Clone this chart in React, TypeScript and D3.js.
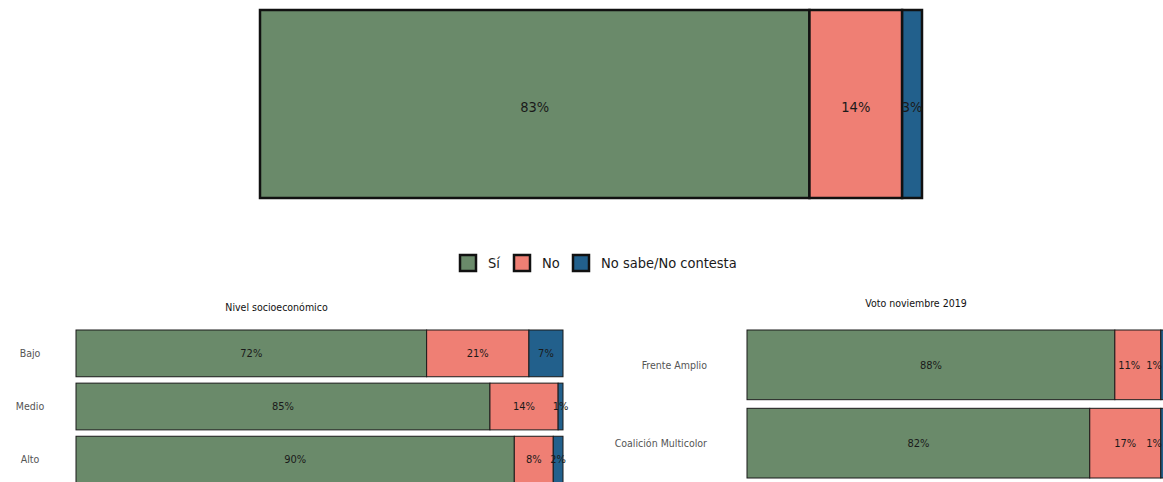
import React from "react";
import * as d3 from "d3";

const responses = ["Sí", "No", "No sabe/No contesta"];
const colors = ["#6a8a6a", "#ef7f74", "#22608c"];

const overallValues = [83, 14, 3];

const nseTitle = "Nivel socioeconómico";
const nseCategories = ["Bajo", "Medio", "Alto"];
const nseSi = [72, 85, 90];
const nseNo = [21, 14, 8];
const nseNs = [7, 1, 2];

const votoTitle = "Voto noviembre 2019";
const votoCategories = ["Frente Amplio", "Coalición Multicolor"];
const votoSi = [88, 82];
const votoNo = [11, 17];
const votoNs = [1, 1];

const FONT = "'Liberation Sans Narrow', 'DejaVu Sans Condensed', sans-serif";

type Seg = { key: number; x0: number; x1: number; v: number };

function stackRow(vals: number[]): Seg[] {
  let acc = 0;
  return vals.map((v, i) => {
    const s = { key: i, x0: acc, x1: acc + v, v };
    acc += v;
    return s;
  });
}

// place value labels at segment centres, nudging left when they would collide / leave the page
function labelPositions(centres: number[], texts: string[], size: number, maxX: number, gap: number): number[] {
  const w = texts.map((t) => t.length * size * 0.72);
  const out = centres.slice();
  let limit = maxX;
  for (let i = out.length - 1; i >= 0; i--) {
    const right = out[i] + w[i] / 2;
    if (right > limit) out[i] = limit - w[i] / 2;
    limit = out[i] - w[i] / 2 - gap;
  }
  return out;
}

function Panel(props: {
  title: string;
  categories: string[];
  series: number[][];
  x0: number;
  x1: number;
  y0: number;
  y1: number;
  panelLeft: number;
  labelAnchor: "middle" | "end";
  labelX: number;
  padding: number;
  titleY: number;
  maxTextX: number;
  valueSize: number;
  avoid: boolean;
}) {
  const { title, categories, series, x0, x1, y0, y1, panelLeft, labelAnchor, labelX, padding, titleY, maxTextX, valueSize, avoid } = props;
  const x = d3.scaleLinear().domain([0, 100]).range([x0, x1]);
  const y = d3.scaleBand<string>().domain(categories).range([y0, y1]).paddingInner(padding);
  return (
    <g>
      <text x={(panelLeft + x1) / 2} y={titleY} textAnchor="middle" fontSize={10.5} fill="#111" fontFamily={FONT}>
        {title}
      </text>
      {categories.map((c, ci) => {
        const vals = series.map((s) => s[ci]);
        const segs = stackRow(vals);
        const yy = y(c)!;
        const h = y.bandwidth();
        const texts = segs.map((s) => `${s.v}%`);
        const centres = segs.map((s) => (x(s.x0) + x(s.x1)) / 2);
        const pos = avoid ? labelPositions(centres, texts, valueSize, maxTextX, 5) : centres;
        return (
          <g key={c}>
            <text x={labelX} y={yy + h / 2} dy="0.35em" textAnchor={labelAnchor} fontSize={10.5} fill="#555" fontFamily={FONT}>
              {c}
            </text>
            {segs.map((s) => (
              <rect key={s.key} x={x(s.x0)} y={yy} width={x(s.x1) - x(s.x0)} height={h} fill={colors[s.key]} stroke="#1a1a1a" strokeWidth={1} />
            ))}
            {segs.map((s, i) => (
              <text key={"t" + s.key} x={pos[i]} y={yy + h / 2} dy="0.35em" textAnchor="middle" fontSize={valueSize} fill="#1a1a1a" fontFamily={FONT}>
                {texts[i]}
              </text>
            ))}
          </g>
        );
      })}
    </g>
  );
}

export default function App() {
  const W = 1163;
  const H = 482;
  const xTop = d3.scaleLinear().domain([0, 100]).range([260, 922]);
  const topSegs = stackRow(overallValues);
  const topY = 10;
  const topH = 188;

  const legendItems = [
    { x: 460, label: responses[0] },
    { x: 514, label: responses[1] },
    { x: 573, label: responses[2] },
  ];

  return (
    <svg width={W} height={H} style={{ position: "absolute", left: 0, top: 0, background: "#fff" }}>
      {topSegs.map((s) => (
        <rect key={s.key} x={xTop(s.x0)} y={topY} width={xTop(s.x1) - xTop(s.x0)} height={topH} fill={colors[s.key]} stroke="#111" strokeWidth={2.5} />
      ))}
      {topSegs.map((s) => (
        <text key={"t" + s.key} x={(xTop(s.x0) + xTop(s.x1)) / 2} y={topY + topH / 2} dy="0.55em" textAnchor="middle" fontSize={14.5} fill="#1a1a1a" fontFamily={FONT}>
          {s.v}%
        </text>
      ))}

      {legendItems.map((it, i) => (
        <g key={it.label}>
          <rect x={it.x} y={255} width={16} height={16} fill={colors[i]} stroke="#111" strokeWidth={2.5} />
          <text x={it.x + 28} y={263} dy="0.35em" fontSize={14.5} fill="#1a1a1a" fontFamily={FONT}>
            {it.label}
          </text>
        </g>
      ))}

      <Panel
        title={nseTitle}
        categories={nseCategories}
        series={[nseSi, nseNo, nseNs]}
        x0={76}
        x1={563}
        y0={330}
        y1={483}
        panelLeft={-10}
        labelAnchor="middle"
        labelX={30}
        padding={0.12}
        titleY={311}
        maxTextX={10000}
        valueSize={11}
        avoid={false}
      />
      <Panel
        title={votoTitle}
        categories={votoCategories}
        series={[votoSi, votoNo, votoNs]}
        x0={747}
        x1={1165}
        y0={330}
        y1={478}
        panelLeft={667}
        labelAnchor="end"
        labelX={707}
        padding={0.11}
        titleY={307}
        maxTextX={W - 1}
        valueSize={11}
        avoid={true}
      />
    </svg>
  );
}
